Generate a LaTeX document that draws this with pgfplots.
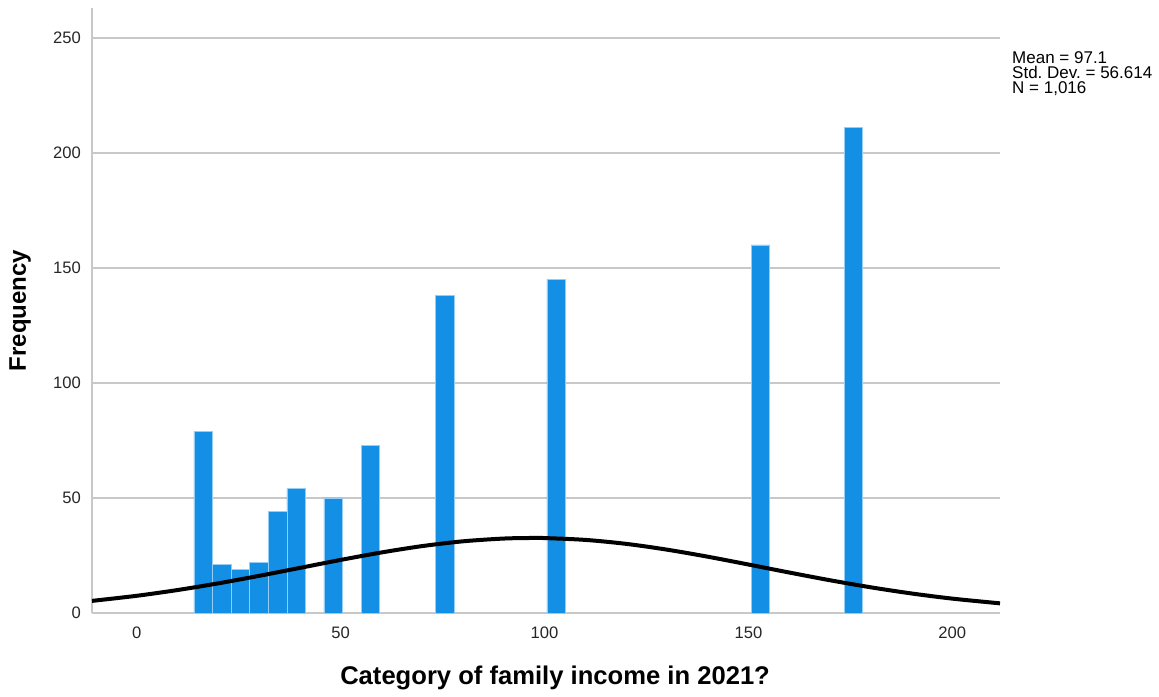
\documentclass[border=0pt]{standalone}
\usepackage{pgfplots}
\pgfplotsset{compat=1.18}
\usepackage{fontspec}
\setmainfont{Liberation Sans}
\definecolor{barblue}{RGB}{20,143,230}
\definecolor{baredge}{RGB}{150,205,245}
\definecolor{gridgray}{RGB}{200,200,200}
\begin{document}
\begin{tikzpicture}
\useasboundingbox (0,0) rectangle (579.5pt,348pt);
\begin{axis}[
  at={(46pt,41.5pt)}, anchor=south west,
  scale only axis, width=454pt, height=302.5pt,
  xmin=-11, xmax=211.7, ymin=0, ymax=263,
  axis x line*=bottom, axis y line*=left,
  axis line style={draw=gridgray, line width=0.8pt},
  x axis line style={-}, y axis line style={-},
  xtick={0,50,100,150,200}, ytick={0,50,100,150,200,250},
  major tick length=0pt,
  ymajorgrids, grid style={draw=gridgray, line width=0.8pt},
  tick label style={font=\fontsize{8.3}{9}\selectfont, color=black!85},
  /pgf/number format/assume math mode=true,
  xticklabel style={anchor=center, yshift=-10pt},
  yticklabel style={anchor=east, xshift=-2pt},
  xlabel={\textbf{Category of family income in 2021?}},
  ylabel={\textbf{Frequency}},
  xlabel style={font=\fontsize{12.8}{14}\selectfont, at={(axis description cs:0.51,-0.1074)}, anchor=center},
  ylabel style={font=\fontsize{12}{14}\selectfont, at={(axis description cs:-0.0793,0.5)}, anchor=center},
  clip=false,
]
\addplot[ybar, bar width=4.556, bar shift=0pt, fill=barblue, draw=baredge, line width=0.3pt]
coordinates {
(16.278,79) (20.834,21) (25.390,19) (29.946,22) (34.502,44) (39.058,54)
(48.170,50) (57.282,73) (75.506,138) (102.842,145) (152.958,160) (175.738,211)
};
\addplot[smooth, black, line width=2pt] coordinates {
(-11,5.27) (0,7.49) (10,9.99) (20,12.90) (30,16.16) (40,19.61) (50,23.08)
(60,26.32) (70,29.09) (80,31.17) (90,32.37) (97.1,32.62) (100,32.58)
(110,31.78) (120,30.06) (130,27.55) (140,24.48) (150,21.08) (160,17.60)
(170,14.24) (180,11.17) (190,8.49) (200,6.25) (211.7,4.20)
};
\node[anchor=north west, align=left, font=\fontsize{8.5}{7.6}\selectfont, inner sep=0pt]
  at (rel axis cs:1.013,0.929) {Mean = 97.1\\Std.\ Dev.\ = 56.614\\N = 1,016};
\end{axis}
\end{tikzpicture}
\end{document}
